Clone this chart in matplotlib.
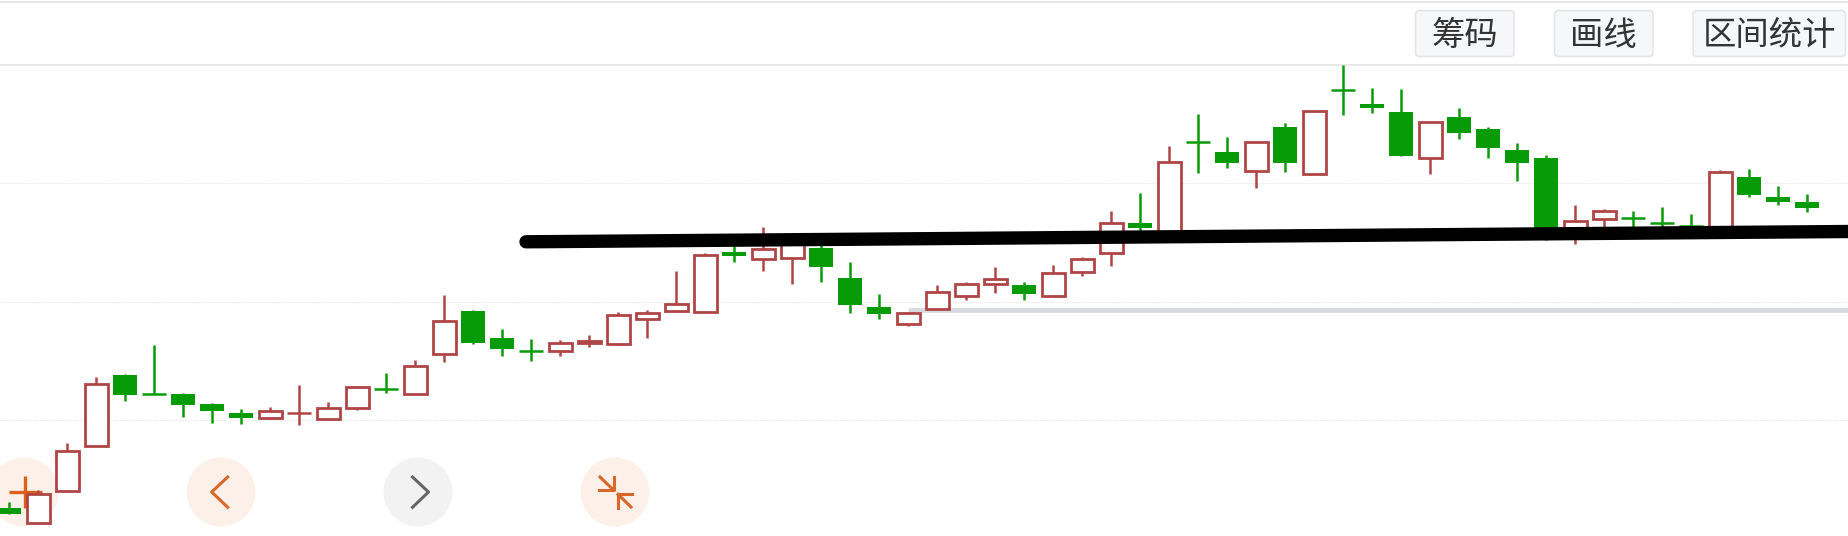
#!/usr/bin/env python3
"""Candlestick screenshot redrawn on a pixel-sized canvas (y grows downward)."""
import matplotlib
matplotlib.use("Agg")
import matplotlib.pyplot as plt
from matplotlib.patches import Circle, FancyBboxPatch

plt.rcParams["font.family"] = ["Noto Sans CJK SC", "DejaVu Sans"]

W, H = 1848, 536
X0, STEP = 9.3, 29.0

# chart values, one entry per candle
body_top = [508.3, 494.3, 451.3, 383.7, 374.7, 393.7, 394.3, 404, 413, 411, 412.7, 408, 387.3,
            388.7, 366.3, 321.3, 310.7, 338, 351, 343, 340.7, 315, 312.7, 304.3, 255, 251.7,
            249.3, 238, 248.3, 278.3, 307.3, 313.3, 292, 284.3, 279.3, 284.7, 273, 259.3, 223.3,
            223, 162.3, 142, 152, 142, 127, 110.7, 90.3, 103.7, 112.3, 122, 116.7, 129, 150.3,
            158, 221, 210.7, 218.3, 222.7, 225.7, 172, 177, 197, 201.7]
body_bot = [514.3, 522.7, 490.7, 445.7, 395, 393.7, 405.3, 411, 418.3, 417.7, 412.7, 419.3, 408.3,
            388.7, 394.3, 353.7, 343, 348.7, 351, 351.3, 343, 343.7, 318.7, 310.7, 311.7, 256.3,
            259.3, 258, 266.7, 305, 314.3, 324, 308.7, 295.7, 284, 294, 296.3, 271.7, 252.7,
            227.7, 235, 142, 163.3, 171, 162.7, 174, 90.3, 108.3, 156, 157.7, 132.7, 148.3, 163.3,
            240, 237, 219, 218.3, 222.7, 225.7, 233, 195, 202, 208]
wick_high = [501.7, 490, 442.7, 377.3, 374, 345.3, 393.3, 403.3, 408.7, 407.3, 385, 402, 386,
             373.3, 360, 295, 310, 329.3, 338.7, 340, 335, 312, 310, 271, 252.7, 234.3,
             226.7, 236, 245, 262.3, 293.7, 312.7, 285.3, 282.3, 267.3, 281.7, 265.3, 257, 210.7,
             192.7, 146, 114, 136.7, 142, 122.7, 110.7, 65, 87.7, 89, 122, 107.7, 126.7, 143.3,
             155.3, 205.3, 208.7, 210.7, 206.7, 213.7, 170.3, 169, 186, 194.3]
wick_low = [514.3, 522.7, 490.7, 445.7, 401.3, 393.7, 417.3, 422.7, 424, 419.3, 425.3, 420, 410,
            393.3, 394.3, 362, 344.3, 356.3, 361.3, 356, 346.7, 345, 337.7, 310.7, 311.7, 262.3,
            271.3, 284, 282.3, 313.3, 319.3, 326, 308.7, 300.3, 293.3, 300, 296.3, 276.3, 266.3,
            240, 235, 173.3, 167.7, 188.3, 171.7, 174, 115.3, 113.3, 156, 174, 139.3, 157.7, 180.7,
            240, 244, 239, 233, 233, 233, 233, 197.3, 205.3, 212.3]
is_red = [0, 1, 1, 1, 0, 0, 0, 0, 0, 1, 1, 1, 1, 0, 1, 1, 0, 0, 0, 1, 1, 1, 1, 1, 1, 0,
          1, 1, 0, 0, 0, 1, 1, 1, 1, 0, 1, 1, 1, 0, 1, 0, 0, 1, 0, 1, 0, 0, 0, 1, 0, 0, 0,
          0, 1, 1, 0, 0, 0, 1, 0, 0, 0]

grid_y = [64.5, 183, 301.7, 420]
button_labels = ["筹码", "画线", "区间统计"]

RED = "#b04545"
GREEN = "#079c07"
ORANGE = "#d9662a"

fig = plt.figure(figsize=(W / 100, H / 100), dpi=100)
ax = fig.add_axes([0, 0, 1, 1])
ax.set_xlim(0, W)
ax.set_ylim(H, 0)
ax.axis("off")

# background lines
ax.hlines(1.5, 0, W, color="#e6e6e6", lw=1.4, zorder=1)
ax.hlines(grid_y[0], 0, W, color="#e4e4e4", lw=1.2, zorder=1)
ax.hlines(grid_y[1:], 0, W, color="#e6e6e6", lw=0.8, ls=(0, (1, 1)), zorder=1)
ax.hlines(310.2, 908, W, color="#d8d8e0", lw=3.4, zorder=1)

# round buttons under the candles
circle_x = [24, 221, 418, 615]
circle_fc = ["#fdf0e8", "#fdf0e8", "#f2f2f2", "#fdf0e8"]
for cx, fc in zip(circle_x, circle_fc):
    ax.add_patch(Circle((cx, 492), 34.5, fc=fc, ec="none", zorder=2))

# candles
for i in range(len(body_top)):
    x = X0 + STEP * i
    col = RED if is_red[i] else GREEN
    # the first candle sits under the orange cross, the rest above it
    z = 3 if i == 0 else 5
    ax.vlines(x, wick_high[i], wick_low[i], color=col, lw=1.8, zorder=z)
    h = body_bot[i] - body_top[i]
    if h == 0:
        ax.hlines(body_top[i], x - 12, x + 12, color=col, lw=1.8, zorder=z + 0.1)
    elif is_red[i]:
        ax.bar(x, h, 23, bottom=body_top[i], fc="white", ec=col, lw=2.0, zorder=z + 0.1)
    else:
        ax.bar(x, h, 24, bottom=body_top[i], fc=col, ec="none", zorder=z + 0.1)

# icons
ax.plot([9, 42], [491.7, 491.7], color="#dc5f1c", lw=2.4, zorder=4, solid_capstyle="butt")
ax.plot([25, 25], [476, 508], color="#dc5f1c", lw=2.4, zorder=4, solid_capstyle="butt")
ax.plot([227.7, 211.7, 227.7], [477, 492, 507.3], color=ORANGE, lw=2.2, zorder=4)
ax.plot([412.5, 428.5, 412.5], [477, 492, 507.3], color="#666666", lw=2.2, zorder=4)
ax.plot([600, 613.5], [477, 490], color=ORANGE, lw=2.2, zorder=4)
ax.plot([599, 613.5, 613.5], [490, 490, 476.5], color=ORANGE, lw=2.2, zorder=4)
ax.plot([631, 618], [507, 494.3], color=ORANGE, lw=2.2, zorder=4)
ax.plot([632, 618, 618], [494.3, 494.3, 508], color=ORANGE, lw=2.2, zorder=4)

# hand-drawn black line
ax.plot([526, 1848], [241.8, 231.5], color="black", lw=9.6, solid_capstyle="round", zorder=8)

# top-right buttons
button_x = [(1415.5, 1514), (1554.5, 1653), (1693, 1845.5)]
for (x1, x2), label in zip(button_x, button_labels):
    ax.add_patch(FancyBboxPatch((x1 + 4, 14.5), x2 - x1 - 8, 38,
                                boxstyle="round,pad=4", fc="#f6f7f9", ec="#e2e4e8", lw=1.1, zorder=2))
    ax.text((x1 + x2) / 2, 35, label, fontsize=24, color="#333333",
            ha="center", va="center", zorder=3)

fig.savefig("out.png", dpi=100, facecolor="white")
